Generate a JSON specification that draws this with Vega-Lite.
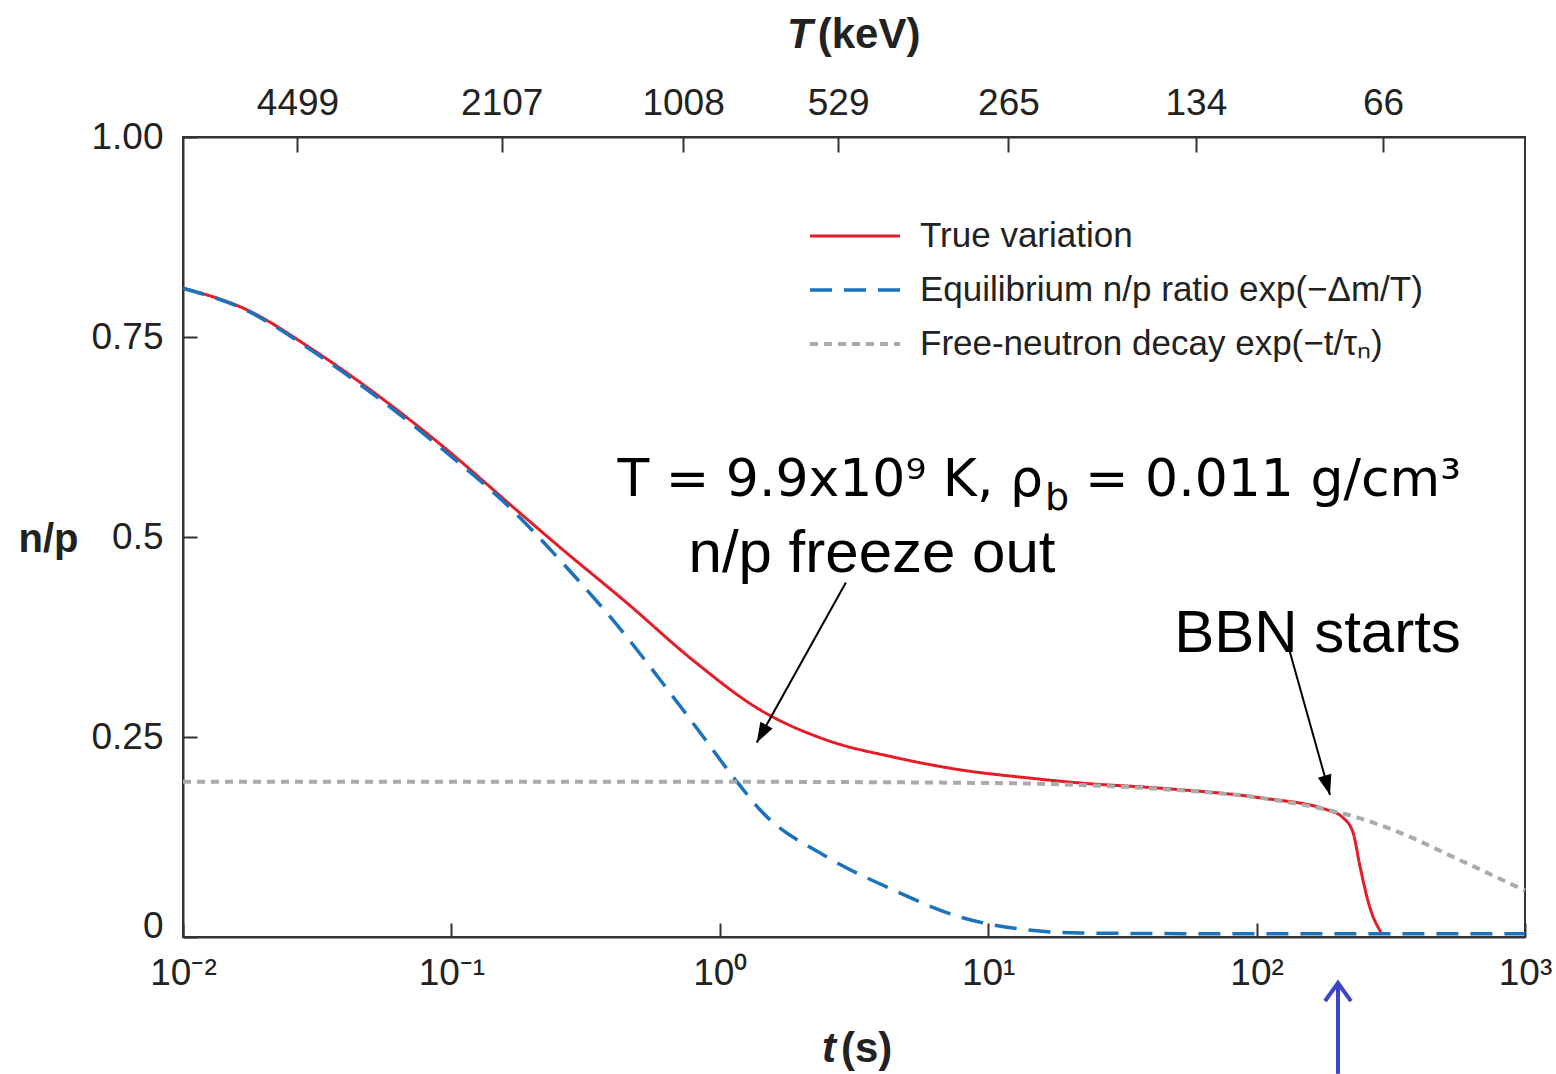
{
  "$schema": "https://vega.github.io/schema/vega-lite/v6.json",
  "width": 1342,
  "height": 800,
  "autosize": {"type": "none"},
  "padding": {"left": 183, "top": 137, "right": 31, "bottom": 137},
  "background": "white",
  "config": {
    "view": {"stroke": "#333333", "strokeWidth": 2},
    "font": "Liberation Sans",
    "axis": {"grid": false, "domainColor": "#333333", "domainWidth": 2, "tickColor": "#333333", "tickWidth": 2, "labelColor": "#222222", "labelFont": "Liberation Sans", "labelFontSize": 37, "labelFlush": false, "labelOverlap": false}
  },
  "datasets": {
    "curves": [
      {"t": 0.01, "np": 0.811, "series": "True variation"},
      {"t": 0.0173, "np": 0.784, "series": "True variation"},
      {"t": 0.0305, "np": 0.734, "series": "True variation"},
      {"t": 0.0542, "np": 0.675, "series": "True variation"},
      {"t": 0.0963, "np": 0.609, "series": "True variation"},
      {"t": 0.1696, "np": 0.5375, "series": "True variation"},
      {"t": 0.254, "np": 0.487, "series": "True variation"},
      {"t": 0.451, "np": 0.4175, "series": "True variation"},
      {"t": 0.794, "np": 0.346, "series": "True variation"},
      {"t": 1.412, "np": 0.284, "series": "True variation"},
      {"t": 2.507, "np": 0.246, "series": "True variation"},
      {"t": 4.42, "np": 0.225, "series": "True variation"},
      {"t": 7.85, "np": 0.209, "series": "True variation"},
      {"t": 13.95, "np": 0.199, "series": "True variation"},
      {"t": 22.0, "np": 0.1925, "series": "True variation"},
      {"t": 43.7, "np": 0.186, "series": "True variation"},
      {"t": 103, "np": 0.174, "series": "True variation"},
      {"t": 183, "np": 0.159, "series": "True variation"},
      {"t": 210, "np": 0.149, "series": "True variation"},
      {"t": 229, "np": 0.13, "series": "True variation"},
      {"t": 243, "np": 0.0875, "series": "True variation"},
      {"t": 264, "np": 0.0375, "series": "True variation"},
      {"t": 293, "np": 0.004, "series": "True variation"},
      {"t": 0.01, "np": 0.811, "series": "Equilibrium n/p ratio exp(−Δm/T)"},
      {"t": 0.0173, "np": 0.783, "series": "Equilibrium n/p ratio exp(−Δm/T)"},
      {"t": 0.0305, "np": 0.732, "series": "Equilibrium n/p ratio exp(−Δm/T)"},
      {"t": 0.0542, "np": 0.672, "series": "Equilibrium n/p ratio exp(−Δm/T)"},
      {"t": 0.0963, "np": 0.605, "series": "Equilibrium n/p ratio exp(−Δm/T)"},
      {"t": 0.1696, "np": 0.533, "series": "Equilibrium n/p ratio exp(−Δm/T)"},
      {"t": 0.254, "np": 0.471, "series": "Equilibrium n/p ratio exp(−Δm/T)"},
      {"t": 0.4, "np": 0.396, "series": "Equilibrium n/p ratio exp(−Δm/T)"},
      {"t": 0.794, "np": 0.2675, "series": "Equilibrium n/p ratio exp(−Δm/T)"},
      {"t": 1.159, "np": 0.194, "series": "Equilibrium n/p ratio exp(−Δm/T)"},
      {"t": 1.412, "np": 0.159, "series": "Equilibrium n/p ratio exp(−Δm/T)"},
      {"t": 2.507, "np": 0.1, "series": "Equilibrium n/p ratio exp(−Δm/T)"},
      {"t": 4.42, "np": 0.059, "series": "Equilibrium n/p ratio exp(−Δm/T)"},
      {"t": 7.85, "np": 0.025, "series": "Equilibrium n/p ratio exp(−Δm/T)"},
      {"t": 13.95, "np": 0.009, "series": "Equilibrium n/p ratio exp(−Δm/T)"},
      {"t": 22.0, "np": 0.005, "series": "Equilibrium n/p ratio exp(−Δm/T)"},
      {"t": 100, "np": 0.004, "series": "Equilibrium n/p ratio exp(−Δm/T)"},
      {"t": 1000, "np": 0.004, "series": "Equilibrium n/p ratio exp(−Δm/T)"},
      {"t": 0.01, "np": 0.194, "series": "Free-neutron decay exp(−t/τₙ)"},
      {"t": 1, "np": 0.194, "series": "Free-neutron decay exp(−t/τₙ)"},
      {"t": 10, "np": 0.1925, "series": "Free-neutron decay exp(−t/τₙ)"},
      {"t": 22, "np": 0.19, "series": "Free-neutron decay exp(−t/τₙ)"},
      {"t": 44, "np": 0.185, "series": "Free-neutron decay exp(−t/τₙ)"},
      {"t": 103, "np": 0.174, "series": "Free-neutron decay exp(−t/τₙ)"},
      {"t": 183, "np": 0.159, "series": "Free-neutron decay exp(−t/τₙ)"},
      {"t": 229, "np": 0.151, "series": "Free-neutron decay exp(−t/τₙ)"},
      {"t": 322, "np": 0.134, "series": "Free-neutron decay exp(−t/τₙ)"},
      {"t": 573, "np": 0.096, "series": "Free-neutron decay exp(−t/τₙ)"},
      {"t": 1000, "np": 0.058, "series": "Free-neutron decay exp(−t/τₙ)"}
    ],
    "arrows": [
      {"name": "freeze", "t1": 2.95, "y1": 0.443, "t2": 1.373, "y2": 0.243},
      {"name": "bbn", "t1": 131.3, "y1": 0.363, "t2": 187.7, "y2": 0.1775}
    ],
    "one": [{}]
  },
  "layer": [
    {
      "data": {"name": "curves"},
      "mark": {"type": "line", "interpolate": "monotone"},
      "encoding": {
        "x": {"field": "t", "type": "quantitative", "scale": {"type": "log", "domain": [0.01, 1000], "nice": false},
          "axis": {"orient": "bottom", "values": [0.01, 0.1, 1, 10, 100, 1000], "title": null, "tickSize": -14, "labelPadding": 32,
            "labelExpr": "datum.value < 0.05 ? '10⁻²' : datum.value < 0.5 ? '10⁻¹' : datum.value < 5 ? '10⁰' : datum.value < 50 ? '10¹' : datum.value < 500 ? '10²' : '10³'"}},
        "y": {"field": "np", "type": "quantitative", "scale": {"domain": [0, 1], "nice": false, "zero": false},
          "axis": {"orient": "left", "values": [0, 0.25, 0.5, 0.75, 1], "tickSize": -14, "labelPadding": 34,
            "labelExpr": "datum.value == 1 ? '1.00' : datum.value == 0.5 ? '0.5' : datum.value == 0 ? '0' : format(datum.value, '.2f')",
            "labelBaseline": {"condition": {"test": "datum.value == 0", "value": "alphabetic"}, "value": "middle"},
            "title": "n/p", "titleAngle": 0, "titleFontWeight": "bold", "titleFontSize": 40, "titleFont": "Liberation Sans", "titleColor": "#222222",
            "titleX": -135, "titleY": 402, "titleAlign": "center", "titleBaseline": "middle"}},
        "color": {"field": "series", "type": "nominal",
          "scale": {"domain": ["True variation", "Equilibrium n/p ratio exp(−Δm/T)", "Free-neutron decay exp(−t/τₙ)"], "range": ["#e41e26", "#1b72bd", "#ababab"]},
          "legend": {"title": null, "orient": "none", "legendX": 625, "legendY": 79, "symbolType": "stroke", "symbolSize": 8100, "symbolStrokeWidth": 4, "labelFontSize": 35, "labelColor": "#222222", "labelFont": "Liberation Sans", "clipHeight": 40, "rowPadding": 14, "labelOffset": 18, "padding": 0, "labelLimit": 900}},
        "strokeDash": {"field": "series", "type": "nominal",
          "scale": {"domain": ["True variation", "Equilibrium n/p ratio exp(−Δm/T)", "Free-neutron decay exp(−t/τₙ)"], "range": [[1, 0], [22, 12], [8, 6]]},
          "legend": {"title": null, "orient": "none", "legendX": 625, "legendY": 79, "symbolType": "stroke", "symbolSize": 8100, "symbolStrokeWidth": 4, "labelFontSize": 35, "labelColor": "#222222", "labelFont": "Liberation Sans", "clipHeight": 40, "rowPadding": 14, "labelOffset": 18, "padding": 0, "labelLimit": 900}},
        "strokeWidth": {"field": "series", "type": "nominal",
          "scale": {"domain": ["True variation", "Equilibrium n/p ratio exp(−Δm/T)", "Free-neutron decay exp(−t/τₙ)"], "range": [3, 4, 4]}, "legend": null}
      }
    },
    {
      "data": {"name": "arrows"},
      "mark": {"type": "rule", "color": "black", "strokeWidth": 2},
      "encoding": {
        "x": {"field": "t1", "type": "quantitative", "scale": {"type": "log", "domain": [0.01, 1000], "nice": false},
          "axis": {"orient": "top", "values": [0.0267, 0.154, 0.73, 2.76, 11.9, 59.4, 296], "title": null, "tickSize": -15, "labelPadding": 30,
            "labelExpr": "datum.value < 0.05 ? '4499' : datum.value < 0.3 ? '2107' : datum.value < 1.5 ? '1008' : datum.value < 6 ? '529' : datum.value < 30 ? '265' : datum.value < 150 ? '134' : '66'"}},
        "y": {"field": "y1", "type": "quantitative", "scale": {"domain": [0, 1], "nice": false, "zero": false}, "axis": null},
        "x2": {"field": "t2"},
        "y2": {"field": "y2"}
      }
    },
    {
      "data": {"name": "one"},
      "mark": {"type": "point", "shape": "M0,0L-0.7,2L0.7,2Z", "angle": 209.2, "filled": true, "color": "black", "opacity": 1, "size": 400},
      "encoding": {
        "x": {"datum": 1.373, "type": "quantitative", "scale": {"type": "log", "domain": [0.01, 1000], "nice": false}, "axis": null},
        "y": {"datum": 0.243, "type": "quantitative", "scale": {"domain": [0, 1], "nice": false, "zero": false}, "axis": null}
      }
    },
    {
      "data": {"name": "one"},
      "mark": {"type": "point", "shape": "M0,0L-0.7,2L0.7,2Z", "angle": 164.3, "filled": true, "color": "black", "opacity": 1, "size": 400},
      "encoding": {
        "x": {"datum": 187.7, "type": "quantitative", "scale": {"type": "log", "domain": [0.01, 1000], "nice": false}, "axis": null},
        "y": {"datum": 0.1775, "type": "quantitative", "scale": {"domain": [0, 1], "nice": false, "zero": false}, "axis": null}
      }
    },
    {
      "data": {"name": "one"},
      "mark": {"type": "rule", "color": "#3c44c8", "strokeWidth": 4},
      "encoding": {
        "x": {"datum": 201, "type": "quantitative", "scale": {"type": "log", "domain": [0.01, 1000], "nice": false}, "axis": null},
        "y": {"datum": -0.171, "type": "quantitative", "scale": {"domain": [0, 1], "nice": false, "zero": false}, "axis": null},
        "y2": {"datum": -0.0585}
      }
    },
    {
      "data": {"name": "one"},
      "mark": {"type": "point", "shape": "M-1,1.4L0,0L1,1.4", "filled": false, "color": "#3c44c8", "strokeWidth": 4, "opacity": 1, "size": 676},
      "encoding": {
        "x": {"datum": 201, "type": "quantitative", "scale": {"type": "log", "domain": [0.01, 1000], "nice": false}, "axis": null},
        "y": {"datum": -0.0575, "type": "quantitative", "scale": {"domain": [0, 1], "nice": false, "zero": false}, "axis": null}
      }
    },
    {
      "data": {"name": "one"},
      "mark": {"type": "text", "text": "T = 9.9x10⁹ K, ρ", "font": "DejaVu Sans", "fontSize": 52, "align": "right", "baseline": "alphabetic", "color": "black"},
      "encoding": {
        "x": {"datum": 16.0, "type": "quantitative", "scale": {"type": "log", "domain": [0.01, 1000], "nice": false}, "axis": null},
        "y": {"datum": 0.551, "type": "quantitative", "scale": {"domain": [0, 1], "nice": false, "zero": false}, "axis": null}
      }
    },
    {
      "data": {"name": "one"},
      "mark": {"type": "text", "text": "b", "font": "DejaVu Sans", "fontSize": 38, "align": "left", "baseline": "alphabetic", "dx": 2, "dy": 14, "color": "black"},
      "encoding": {
        "x": {"datum": 16.0, "type": "quantitative", "scale": {"type": "log", "domain": [0.01, 1000], "nice": false}, "axis": null},
        "y": {"datum": 0.551, "type": "quantitative", "scale": {"domain": [0, 1], "nice": false, "zero": false}, "axis": null}
      }
    },
    {
      "data": {"name": "one"},
      "mark": {"type": "text", "text": "= 0.011 g/cm³", "font": "DejaVu Sans", "fontSize": 52, "align": "left", "baseline": "alphabetic", "dx": 42, "color": "black"},
      "encoding": {
        "x": {"datum": 16.0, "type": "quantitative", "scale": {"type": "log", "domain": [0.01, 1000], "nice": false}, "axis": null},
        "y": {"datum": 0.551, "type": "quantitative", "scale": {"domain": [0, 1], "nice": false, "zero": false}, "axis": null}
      }
    },
    {
      "data": {"name": "one"},
      "mark": {"type": "text", "text": "n/p freeze out", "font": "Liberation Sans", "fontSize": 60, "align": "center", "baseline": "alphabetic", "color": "black"},
      "encoding": {
        "x": {"datum": 3.69, "type": "quantitative", "scale": {"type": "log", "domain": [0.01, 1000], "nice": false}, "axis": null},
        "y": {"datum": 0.456, "type": "quantitative", "scale": {"domain": [0, 1], "nice": false, "zero": false}, "axis": null}
      }
    },
    {
      "data": {"name": "one"},
      "mark": {"type": "text", "text": "BBN starts", "font": "Liberation Sans", "fontSize": 60, "align": "center", "baseline": "alphabetic", "color": "black"},
      "encoding": {
        "x": {"datum": 168.6, "type": "quantitative", "scale": {"type": "log", "domain": [0.01, 1000], "nice": false}, "axis": null},
        "y": {"datum": 0.356, "type": "quantitative", "scale": {"domain": [0, 1], "nice": false, "zero": false}, "axis": null}
      }
    },
    {
      "data": {"name": "one"},
      "mark": {"type": "text", "text": "T", "font": "Liberation Sans", "fontSize": 42, "fontWeight": "bold", "fontStyle": "italic", "align": "right", "baseline": "alphabetic", "color": "#222222"},
      "encoding": {
        "x": {"datum": 2.22, "type": "quantitative", "scale": {"type": "log", "domain": [0.01, 1000], "nice": false}, "axis": null},
        "y": {"datum": 1.111, "type": "quantitative", "scale": {"domain": [0, 1], "nice": false, "zero": false}, "axis": null}
      }
    },
    {
      "data": {"name": "one"},
      "mark": {"type": "text", "text": "(keV)", "font": "Liberation Sans", "fontSize": 42, "fontWeight": "bold", "align": "left", "baseline": "alphabetic", "dx": 5, "color": "#222222"},
      "encoding": {
        "x": {"datum": 2.22, "type": "quantitative", "scale": {"type": "log", "domain": [0.01, 1000], "nice": false}, "axis": null},
        "y": {"datum": 1.111, "type": "quantitative", "scale": {"domain": [0, 1], "nice": false, "zero": false}, "axis": null}
      }
    },
    {
      "data": {"name": "one"},
      "mark": {"type": "text", "text": "t", "font": "Liberation Sans", "fontSize": 42, "fontWeight": "bold", "fontStyle": "italic", "align": "right", "baseline": "alphabetic", "color": "#222222"},
      "encoding": {
        "x": {"datum": 2.71, "type": "quantitative", "scale": {"type": "log", "domain": [0.01, 1000], "nice": false}, "axis": null},
        "y": {"datum": -0.156, "type": "quantitative", "scale": {"domain": [0, 1], "nice": false, "zero": false}, "axis": null}
      }
    },
    {
      "data": {"name": "one"},
      "mark": {"type": "text", "text": "(s)", "font": "Liberation Sans", "fontSize": 42, "fontWeight": "bold", "align": "left", "baseline": "alphabetic", "dx": 5, "color": "#222222"},
      "encoding": {
        "x": {"datum": 2.71, "type": "quantitative", "scale": {"type": "log", "domain": [0.01, 1000], "nice": false}, "axis": null},
        "y": {"datum": -0.156, "type": "quantitative", "scale": {"domain": [0, 1], "nice": false, "zero": false}, "axis": null}
      }
    }
  ],
  "resolve": {"axis": {"x": "independent", "y": "independent"}}
}
